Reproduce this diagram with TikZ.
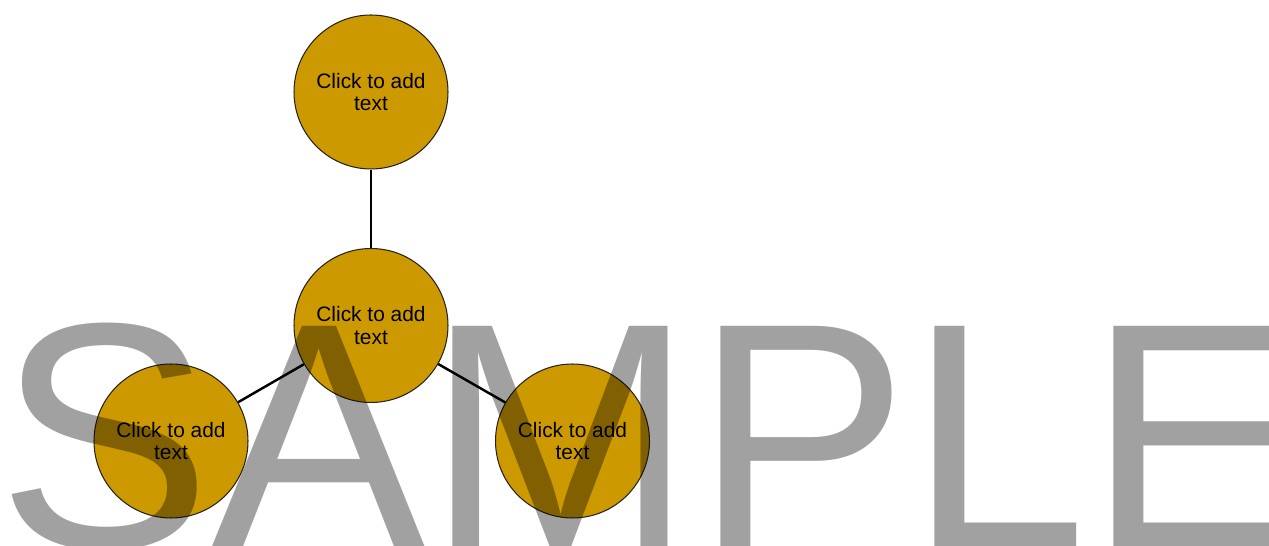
\documentclass[tikz,border=0pt]{standalone}
\usepackage{fontspec}
\setmainfont{Liberation Sans}
\usepackage{tikz}
\usetikzlibrary{positioning}
\definecolor{bubblegold}{RGB}{204,153,0}
\definecolor{bubbleedge}{RGB}{40,35,25}
\tikzset{
  spoke/.style={line width=1.4pt, draw=black},
  bubble/.style={
    circle,
    draw=bubbleedge,
    line width=0.6pt,
    fill=bubblegold,
    minimum size=3.08cm,
    inner sep=0pt,
    align=center,
    font=\fontsize{11.9pt}{13pt}\selectfont
  },
  watermark/.style={
    inner sep=0pt,
    anchor=base west,
    text=black,
    text opacity=0.37,
    font=\fontsize{183pt}{183pt}\selectfont
  }
}
\begin{document}
\begin{tikzpicture}[x=0.02cm,y=-0.02cm]
  \useasboundingbox (0,0) rectangle (1269,546);

  % Bubbles
  \node[bubble] (top) at (371,92) {Click to add\\text};
  \node[bubble] (hub) at (371,325.5) {Click to add\\text};
  \node[bubble] (left) at (171,441) {Click to add\\text};
  \node[bubble] (right) at (572.5,441) {Click to add\\text};

  % Spokes
  \draw[spoke] (hub) -- (top);
  \draw[spoke] (hub) -- (left);
  \draw[spoke] (hub) -- (right);

  % Watermark
  \node[watermark] (mark) at (-3,548) {SAMPLE};
\end{tikzpicture}
\end{document}
